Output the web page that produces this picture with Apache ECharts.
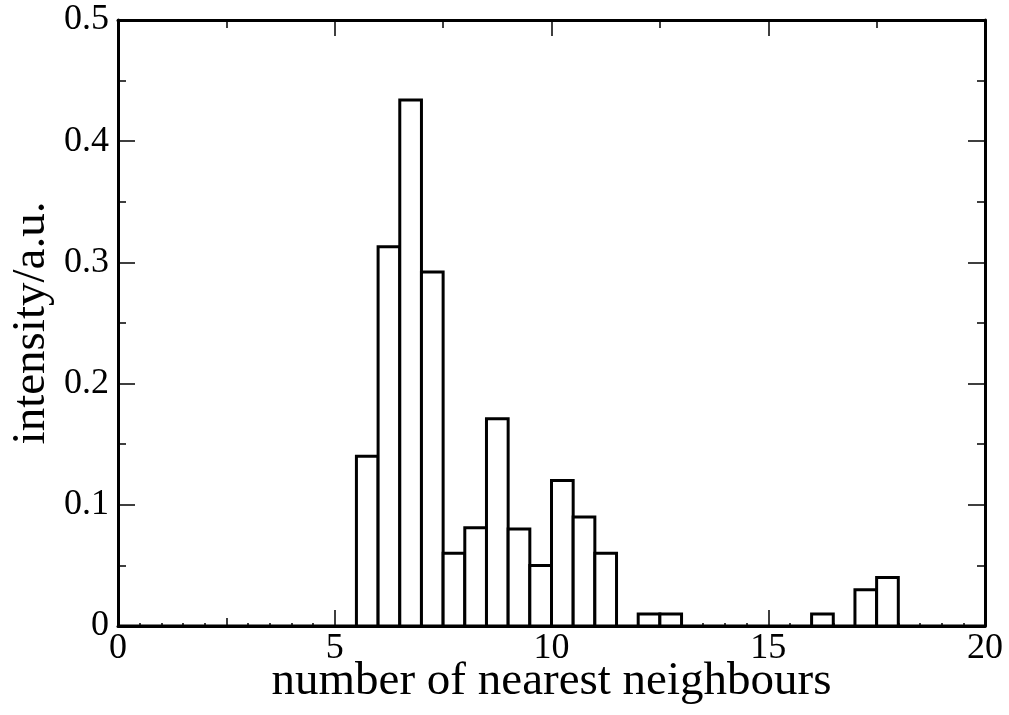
<!DOCTYPE html>
<html>
<head>
<meta charset="utf-8">
<title>Nearest neighbour histogram</title>
<script src="https://cdn.jsdelivr.net/npm/echarts@6/dist/echarts.min.js"></script>
<style>
  html, body { margin: 0; padding: 0; background: #ffffff; }
  #chart { width: 1009px; height: 715px; }
</style>
</head>
<body>
<div id="chart"></div>
<script>
// Histogram of the number of nearest neighbours (bin width 0.5)
const binStart = [
  0, 0.5, 1, 1.5, 2, 2.5, 3, 3.5, 4, 4.5,
  5, 5.5, 6, 6.5, 7, 7.5, 8, 8.5, 9, 9.5,
  10, 10.5, 11, 11.5, 12, 12.5, 13, 13.5, 14, 14.5,
  15, 15.5, 16, 16.5, 17, 17.5, 18, 18.5, 19, 19.5
];
const binEnd = [
  0.5, 1, 1.5, 2, 2.5, 3, 3.5, 4, 4.5, 5,
  5.5, 6, 6.5, 7, 7.5, 8, 8.5, 9, 9.5, 10,
  10.5, 11, 11.5, 12, 12.5, 13, 13.5, 14, 14.5, 15,
  15.5, 16, 16.5, 17, 17.5, 18, 18.5, 19, 19.5, 20
];
const intensity = [
  0, 0, 0, 0, 0, 0, 0, 0, 0, 0,
  0, 0.14, 0.313, 0.434, 0.292, 0.06, 0.081, 0.171, 0.08, 0.05,
  0.12, 0.09, 0.06, 0, 0.01, 0.01, 0, 0, 0, 0,
  0, 0, 0.01, 0, 0.03, 0.04, 0, 0, 0, 0
];
const xTickLabels = [0, 5, 10, 15, 20];
const xName = 'number of nearest neighbours';
const yName = 'intensity/a.u.';

const FONT = '"Liberation Serif", "DejaVu Serif", serif';
const INK = '#000000';

const histData = binStart.map((s, i) => [s, binEnd[i], intensity[i]]);

function xAxisBase(extra) {
  return Object.assign({
    type: 'value', min: 0, max: 20, gridIndex: 0,
    splitLine: { show: false },
    axisLine: { show: false, onZero: false },
    axisLabel: { show: false },
    axisTick: { show: true, inside: true, lineStyle: { color: INK, width: 1.5 } }
  }, extra);
}
function yAxisBase(extra) {
  return Object.assign({
    type: 'value', min: 0, max: 0.5, interval: 0.1, gridIndex: 0,
    splitLine: { show: false },
    axisLine: { show: false, onZero: false },
    axisLabel: { show: false },
    axisTick: { show: true, inside: true, length: 17, lineStyle: { color: INK, width: 1.5 } },
    minorTick: { show: true, splitNumber: 2, length: 8, lineStyle: { color: INK, width: 1.5 } }
  }, extra);
}

const chart = echarts.init(document.getElementById('chart'), null, { renderer: 'canvas' });

chart.setOption({
  backgroundColor: '#ffffff',
  animation: false,
  grid: { left: 118, right: 24, top: 20, bottom: 89, show: false, outerBoundsMode: 'none', containLabel: false },
  xAxis: [
    // bottom axis: ticks every 2.5, labels at multiples of 5, small marks at bin edges
    xAxisBase({
      position: 'bottom', interval: 2.5,
      axisLine: { show: true, onZero: false, lineStyle: { color: INK, width: 3 } },
      axisTick: { show: true, inside: true, length: 8, lineStyle: { color: INK, width: 1.5 } },
      minorTick: { show: true, splitNumber: 5, length: 3, lineStyle: { color: INK, width: 1.5 } },
      axisLabel: {
        show: true, margin: 5, color: INK, fontFamily: FONT, fontSize: 36,
        formatter: v => (xTickLabels.indexOf(v) >= 0 ? String(v) : '')
      },
      name: xName, nameLocation: 'middle', nameGap: 32, nameMoveOverlap: false,
      nameTextStyle: { color: INK, fontFamily: FONT, fontSize: 47 }
    }),
    // bottom axis: long ticks every 5
    xAxisBase({ position: 'bottom', interval: 5,
      axisTick: { show: true, inside: true, length: 16, lineStyle: { color: INK, width: 1.5 } } }),
    // top frame: ticks every 2.5
    xAxisBase({ position: 'top', interval: 2.5,
      axisLine: { show: true, onZero: false, lineStyle: { color: INK, width: 3 } },
      axisTick: { show: true, inside: true, length: 8, lineStyle: { color: INK, width: 1.5 } } }),
    // top frame: long ticks every 5
    xAxisBase({ position: 'top', interval: 5,
      axisTick: { show: true, inside: true, length: 16, lineStyle: { color: INK, width: 1.5 } } })
  ],
  yAxis: [
    yAxisBase({
      position: 'left',
      axisLine: { show: true, onZero: false, lineStyle: { color: INK, width: 3 } },
      axisLabel: {
        show: true, margin: 9, color: INK, fontFamily: FONT, fontSize: 36,
        formatter: v => String(Math.round(v * 10) / 10)
      },
      name: yName, nameLocation: 'middle', nameGap: 63, nameRotate: 90, nameMoveOverlap: false,
      nameTextStyle: { color: INK, fontFamily: FONT, fontSize: 47 }
    }),
    yAxisBase({
      position: 'right',
      axisLine: { show: true, onZero: false, lineStyle: { color: INK, width: 3 } }
    })
  ],
  series: [{
    type: 'custom',
    xAxisIndex: 0,
    yAxisIndex: 0,
    clip: false,
    data: histData,
    encode: { x: [0, 1], y: 2 },
    renderItem: function (params, api) {
      const p0 = api.coord([api.value(0), api.value(2)]);
      const p1 = api.coord([api.value(1), 0]);
      return {
        type: 'rect',
        shape: { x: p0[0], y: p0[1], width: p1[0] - p0[0], height: p1[1] - p0[1] },
        style: { fill: '#ffffff', stroke: INK, lineWidth: 3, lineJoin: 'miter' }
      };
    }
  }]
});
</script>
</body>
</html>
